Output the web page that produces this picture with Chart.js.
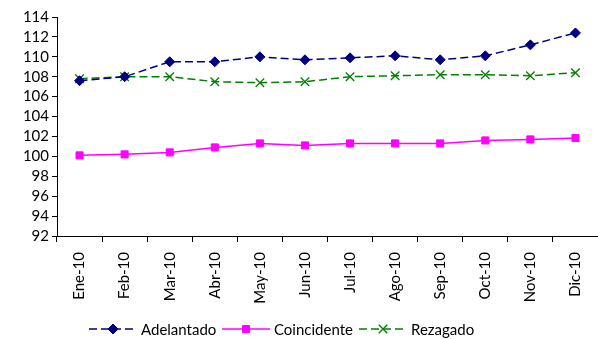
<!DOCTYPE html>
<html>
<head>
<meta charset="utf-8">
<script src="https://cdn.jsdelivr.net/npm/chart.js@4.4.0/dist/chart.umd.min.js"></script>
<style>
  html, body { margin: 0; padding: 0; background: #fff; }
  #wrap { width: 598px; height: 339px; position: relative; }
</style>
</head>
<body>
<div id="wrap"><canvas id="c"></canvas></div>
<script>
const months = ['Ene-10', 'Feb-10', 'Mar-10', 'Abr-10', 'May-10', 'Jun-10',
                'Jul-10', 'Ago-10', 'Sep-10', 'Oct-10', 'Nov-10', 'Dic-10'];
const adelantado  = [107.6, 108.0, 109.5, 109.5, 110.0, 109.7, 109.9, 110.1, 109.7, 110.1, 111.2, 112.4];
const coincidente = [100.1, 100.2, 100.4, 100.9, 101.3, 101.1, 101.3, 101.3, 101.3, 101.6, 101.7, 101.85];
const rezagado    = [107.8, 108.0, 108.0, 107.5, 107.4, 107.5, 108.0, 108.1, 108.2, 108.2, 108.1, 108.4];
const yTicks = [92, 94, 96, 98, 100, 102, 104, 106, 108, 110, 112, 114];

const FONT = 'Lato, "Open Sans", sans-serif';

// legend under the axis labels: line + marker + text, like the spreadsheet one
const legendPlugin = {
  id: 'bottomLegend',
  afterDraw(chart) {
    const c = chart.ctx;
    const y = 329;
    const starts = [89, 222, 359];
    c.save();
    c.font = '15px ' + FONT;
    c.textBaseline = 'middle';
    chart.data.datasets.forEach((ds, i) => {
      const x = starts[i];
      c.strokeStyle = ds.borderColor;
      c.lineWidth = ds.borderWidth;
      c.setLineDash(ds.borderDash || []);
      c.beginPath();
      c.moveTo(x, y);
      c.lineTo(x + 48, y);
      c.stroke();
      c.setLineDash([]);
      c.fillStyle = ds.pointBackgroundColor;
      c.strokeStyle = ds.pointBorderColor;
      c.lineWidth = ds.pointBorderWidth;
      Chart.helpers.drawPoint(c, {
        pointStyle: ds.pointStyle,
        radius: ds.pointRadius,
        borderWidth: ds.pointBorderWidth,
        rotation: 0
      }, x + 24, y);
      c.fillStyle = '#000';
      c.fillText(ds.label, x + 52, y + 1);
    });
    c.restore();
  }
};

new Chart(document.getElementById('c'), {
  type: 'line',
  data: {
    labels: months,
    datasets: [
      {
        label: 'Adelantado', data: adelantado,
        borderColor: '#000080', backgroundColor: '#000080',
        borderWidth: 1.5, borderDash: [8, 4],
        pointStyle: 'rectRot', pointRadius: 5, pointBorderWidth: 1,
        pointBackgroundColor: '#000080', pointBorderColor: '#000080'
      },
      {
        label: 'Coincidente', data: coincidente,
        borderColor: '#FF00FF', backgroundColor: '#FF00FF',
        borderWidth: 1.5,
        pointStyle: 'rect', pointRadius: 5, pointBorderWidth: 1,
        pointBackgroundColor: '#FF00FF', pointBorderColor: '#FF00FF'
      },
      {
        label: 'Rezagado', data: rezagado,
        borderColor: '#008000', backgroundColor: '#008000',
        borderWidth: 1.5, borderDash: [8, 4],
        pointStyle: 'crossRot', pointRadius: 6, pointBorderWidth: 1.3,
        pointBackgroundColor: '#008000', pointBorderColor: '#008000'
      }
    ]
  },
  options: {
    responsive: true,
    maintainAspectRatio: false,
    animation: false,
    layout: { autoPadding: false, padding: { top: 17, right: 0, left: 0, bottom: 0 } },
    plugins: {
      legend: { display: false },
      tooltip: { enabled: false }
    },
    scales: {
      x: {
        offset: true,
        grid: { offset: true, drawOnChartArea: false, drawTicks: true, tickLength: 6, color: '#000' },
        border: { color: '#000', width: 1 },
        ticks: {
          color: '#000', font: { family: FONT, size: 15 },
          maxRotation: 90, minRotation: 90, autoSkip: false, padding: 10
        },
        afterFit(scale) {
          scale.height = 339 - 17 - 219;
          scale.paddingRight = 0;
          scale.paddingLeft = 0;
        }
      },
      y: {
        min: 92, max: 114,
        afterBuildTicks(scale) { scale.ticks = yTicks.map(v => ({ value: v })); },
        grid: { drawOnChartArea: false, drawTicks: true, tickLength: 5, color: '#000' },
        border: { color: '#000', width: 1 },
        ticks: { color: '#000', font: { family: FONT, size: 15 }, padding: 3, autoSkip: false },
        afterFit(scale) { scale.width = 57; }
      }
    }
  },
  plugins: [legendPlugin]
});
</script>
</body>
</html>
